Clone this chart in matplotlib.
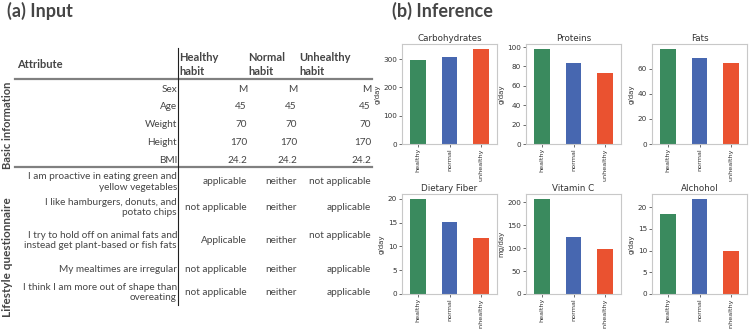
import matplotlib.pyplot as plt
from matplotlib.ticker import MultipleLocator
import pandas as pd

W, H = 749, 329

# ---- data ----
groups = ['healthy', 'normal', 'unhealthy']
carbohydrates = [298, 308, 337]
proteins = [98.3, 83.2, 72.9]
fats = [75.9, 68.5, 64.3]
fiber = [20.0, 15.1, 11.8]
vitamin_c = [208, 125, 98]
alcohol = [18.4, 21.9, 10.0]

panel_titles = ['Carbohydrates', 'Proteins', 'Fats', 'Dietary Fiber', 'Vitamin C', 'Alchohol']
panel_units = ['g/day', 'g/day', 'g/day', 'g/day', 'mg/day', 'g/day']
tick_steps = [100, 20, 20, 5, 50, 5]

headers = ['Healthy\nhabit', 'Normal\nhabit', 'Unhealthy\nhabit']
attributes = ['Sex', 'Age', 'Weight', 'Height', 'BMI']
basic_healthy = ['M', '45', '70', '170', '24.2']
basic_normal = ['M', '45', '70', '170', '24.2']
basic_unhealthy = ['M', '45', '70', '170', '24.2']

questions = ['I am proactive in eating green and\nyellow vegetables',
             'I like hamburgers, donuts, and\npotato chips',
             'I try to hold off on animal fats and\ninstead get plant-based or fish fats',
             'My mealtimes are irregular',
             'I think I am more out of shape than\novereating']
q_healthy = ['applicable', 'not applicable', 'Applicable', 'not applicable', 'not applicable']
q_normal = ['neither', 'neither', 'neither', 'neither', 'neither']
q_unhealthy = ['not applicable', 'applicable', 'not applicable', 'applicable', 'applicable']

colors = ['#3a8a5e', '#4767b0', '#ea5230']
txt = '#454545'
tfont = 'Lato'

fig = plt.figure(figsize=(W / 100, H / 100), dpi=100)


def fx(x):
    return x / W


def fy(y):
    return 1 - y / H


def put(x, y, s, **kw):
    kw.setdefault('color', txt)
    kw.setdefault('family', tfont)
    kw.setdefault('fontsize', 7.2)
    kw.setdefault('va', 'center')
    fig.text(fx(x), fy(y), s, **kw)


# ---- (a) table ----
put(7, 11, '(a) Input', fontsize=13, fontweight='bold', ha='left')
put(17, 65, 'Attribute', fontsize=8, fontweight='bold', ha='left')
for hx, h in zip([179, 248, 299], headers):
    put(hx, 64.5, h, fontsize=8, fontweight='bold', ha='left', linespacing=1.25)

fig.add_artist(plt.Line2D([fx(15), fx(372)], [fy(79), fy(79)], color='#808080', lw=1.6))
fig.add_artist(plt.Line2D([fx(15), fx(372)], [fy(167), fy(167)], color='#808080', lw=1.6))
fig.add_artist(plt.Line2D([fx(178), fx(178)], [fy(48), fy(305)], color='#202020', lw=0.8))

col_x = [247, 297, 371]
for i, a in enumerate(attributes):
    y = 89 + 17.8 * i
    put(177, y, a, ha='right')
    for cx, col in zip(col_x, [basic_healthy, basic_normal, basic_unhealthy]):
        put(cx, y, col[i], ha='right')

q_y = [182, 207.5, 240.5, 270, 292.5]
for i, q in enumerate(questions):
    y = q_y[i]
    put(177, y, q, ha='right', linespacing=1.2)
    for j, (cx, col) in enumerate(zip(col_x, [q_healthy, q_normal, q_unhealthy])):
        yy = y - 5 if (i == 2 and j == 2) else y
        put(cx, yy, col[i], ha='right')

put(8, 125, 'Basic information', fontsize=8, fontweight='bold', rotation=90, ha='center')
put(8, 257, 'Lifestyle questionnaire', fontsize=8.5, fontweight='bold', rotation=90, ha='center')

# ---- (b) bar charts ----
put(392, 11, '(b) Inference', fontsize=13, fontweight='bold', ha='left')

series = [carbohydrates, proteins, fats, fiber, vitamin_c, alcohol]
lefts = [402, 526, 652]
tops = [44, 194]
for k, vals in enumerate(series):
    r, c = divmod(k, 3)
    x0, y0 = lefts[c], tops[r]
    ax = fig.add_axes([fx(x0), fy(y0 + 100), 95 / W, 100 / H])
    pd.Series(vals, index=groups).plot.bar(ax=ax, color=colors, width=0.5)
    ax.yaxis.set_major_locator(MultipleLocator(tick_steps[k]))
    ax.set_title(panel_titles[k], fontsize=6.3, color='#333333', pad=2)
    ax.set_ylabel(panel_units[k], fontsize=5, color='#333333', labelpad=2)
    ax.tick_params(axis='y', labelsize=5.2, length=2, width=0.5, pad=1.5, colors='#333333')
    ax.tick_params(axis='x', labelsize=4.6, length=2, width=0.5, pad=1, colors='#333333')
    for s in ax.spines.values():
        s.set_color('#c8c8c8')
        s.set_linewidth(0.8)

fig.savefig('out.png', dpi=100)
